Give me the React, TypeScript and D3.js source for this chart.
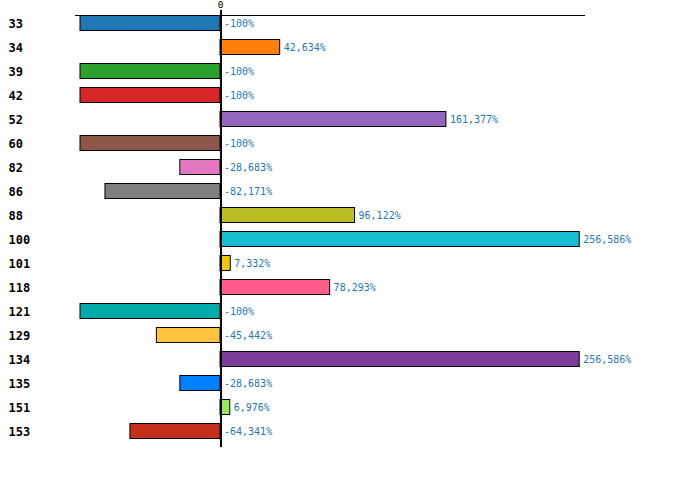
import React from "react";
import * as d3 from "d3";

const categories = ["33","34","39","42","52","60","82","86","88","100","101","118","121","129","134","135","151","153"];
const values = [-100,42.634,-100,-100,161.377,-100,-28.683,-82.171,96.122,256.586,7.332,78.293,-100,-45.442,256.586,-28.683,6.976,-64.341];
const colors = ["#1f77b4","#ff7f0e","#2ca02c","#d62728","#9467bd","#8c564b","#e377c2","#7f7f7f","#bcbd22","#17becf","#f2c511","#ff5a8c","#00aba9","#ffc43d","#7d3c98","#0080ff","#98e85e","#c4301c"];
const xDomain = [-103.57, 260.71];
const xTicks = [0];

const W = 700, H = 477;

export default function App() {
  const x = d3.scaleLinear().domain(xDomain).range([75, 585]);
  const y = d3.scaleBand<string>().domain(categories).range([11, 11 + categories.length * 24]).paddingInner(0.375).paddingOuter(0.1875);
  const fmt = (v: number) => {
    const s = Number.isInteger(v) ? String(v) : v.toFixed(3).replace(/0+$/, "");
    return s.replace(".", ",") + "%";
  };
  const x0 = x(0);
  return (
    <svg width={W} height={H} style={{ position: "absolute", left: 0, top: 0, display: "block" }}>
      <rect width={W} height={H} fill="#fff" />
      <line x1={x.range()[0]} x2={x.range()[1]} y1={15} y2={15} stroke="#000" strokeWidth={1} shapeRendering="crispEdges" />
      {xTicks.map((t) => (
        <text key={t} x={x(t) + 0.5} y={8} textAnchor="middle" fontFamily="DejaVu Sans Mono" fontSize={9.5} fill="#000">{t}</text>
      ))}
      {categories.map((c, i) => {
        const v = values[i];
        const xa = x(Math.min(0, v));
        const w = Math.abs(x(v) - x0);
        const yb = y(c)!;
        const cy = yb + y.bandwidth() / 2;
        const lx = v >= 0 ? x(v) + 4 : x0 + 4;
        return (
          <g key={c}>
            <rect x={xa} y={yb} width={w} height={y.bandwidth()} fill={colors[i]} stroke="#000" strokeWidth={1} />
            <text x={8.5} y={cy + 0.5} dy="0.35em" fontFamily="DejaVu Sans Mono" fontWeight="bold" fontSize={12} fill="#000">{c}</text>
            <text x={lx} y={cy + 0.5} dy="0.35em" fontFamily="DejaVu Sans Mono" fontSize={10} fill="#1f77b4">{fmt(v)}</text>
          </g>
        );
      })}
      <line x1={x0 + 1} x2={x0 + 1} y1={10} y2={447} stroke="#000" strokeWidth={2} />
    </svg>
  );
}
